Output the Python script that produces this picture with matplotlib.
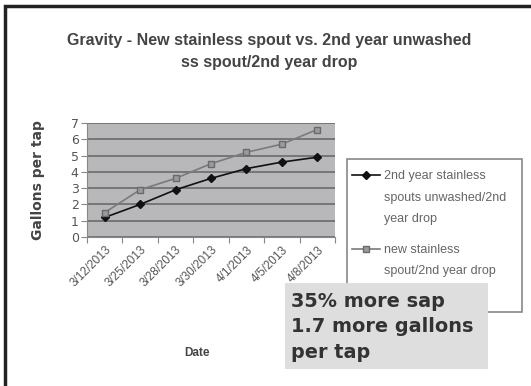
import numpy as np
import matplotlib
matplotlib.use("Agg")
import matplotlib.pyplot as plt
from matplotlib.patches import Rectangle
from matplotlib.lines import Line2D

dates = ["3/12/2013", "3/25/2013", "3/28/2013", "3/30/2013",
         "4/1/2013", "4/5/2013", "4/8/2013"]
old_spout = [1.2, 2.0, 2.9, 3.6, 4.2, 4.6, 4.9]
new_spout = [1.5, 2.9, 3.6, 4.5, 5.2, 5.7, 6.6]
old_label = "2nd year stainless\nspouts unwashed/2nd\nyear drop"
new_label = "new stainless\nspout/2nd year drop"
note = "35% more sap\n1.7 more gallons\nper tap"

W, H = 531, 386
fig = plt.figure(figsize=(W / 100, H / 100), dpi=100)
fig.patch.set_facecolor("white")

def fx(px):
    return px / W

def fy(py):
    return 1 - py / H

sans = ["Liberation Sans", "DejaVu Sans"]

# outer frame
fig.patches.append(Rectangle((fx(5), fy(530)), 1.2, fy(6) - fy(530),
                             transform=fig.transFigure, fill=False,
                             edgecolor="#222222", linewidth=2.5))

ax_l, ax_r, ax_t, ax_b = 87, 335, 123, 237
ax = fig.add_axes([fx(ax_l), fy(ax_b), fx(ax_r) - fx(ax_l), fy(ax_t) - fy(ax_b)])
ax.set_facecolor("#b8b8bb")
x = np.arange(len(dates))
ax.set_xlim(-0.5, len(dates) - 0.5)
ax.set_ylim(0, 7)
ax.set_yticks(range(8))
ax.yaxis.grid(True, color="#6a6a6a", linewidth=1.2)
ax.set_axisbelow(True)
for s in ["top", "right"]:
    ax.spines[s].set_visible(False)
ax.spines["left"].set_color("#888888")
ax.spines["bottom"].set_color("#888888")

ax.plot(x, old_spout, color="#111111", marker="D", markersize=4.5,
        linewidth=1.2, label=old_label)
ax.plot(x, new_spout, color="#7a7a7a", marker="s", markersize=5,
        markerfacecolor="#9a9a9a", markeredgecolor="#6a6a6a",
        linewidth=1.2, label=new_label)

ax.set_xticks(np.arange(-0.5, len(dates)), minor=False)
ax.set_xticklabels([])
ax.set_xticks(x, minor=True)
ax.set_xticklabels(dates, minor=True, rotation=45, ha="right",
                   rotation_mode="anchor", fontsize=8.5, color="#555555",
                   family=sans)
ax.tick_params(axis="x", which="minor", length=0, pad=5)
ax.tick_params(axis="x", which="major", length=4, color="#888888")
ax.tick_params(axis="y", length=4, color="#888888", labelsize=9,
               labelcolor="#555555", pad=2)

ax_w = fx(ax_r) - fx(ax_l)
ax_h = fy(ax_t) - fy(ax_b)
ax.set_ylabel("Gallons per tap", fontsize=10, fontweight="bold",
              color="#444444")
ax.yaxis.set_label_coords((fx(45) - fx(ax_l)) / ax_w, 0.5)
ax.set_xlabel("Date", fontsize=8.5, fontweight="bold", color="#444444",
              family=sans)
ax.xaxis.set_label_coords((fx(197) - fx(ax_l)) / ax_w,
                          (fy(347) - fy(ax_b)) / ax_h)

fig.text(fx(269), fy(40), "Gravity - New stainless spout vs. 2nd year unwashed",
         ha="center", va="center", fontsize=11.5, fontweight="bold",
         color="#444444", family=sans)
fig.text(fx(269), fy(62), "ss spout/2nd year drop", ha="center", va="center",
         fontsize=11.5, fontweight="bold", color="#444444", family=sans)

# legend: frame, handles on the first line of each entry, wrapped labels
fig.patches.append(Rectangle((fx(347), fy(312)), fx(522) - fx(347),
                             fy(159) - fy(312), transform=fig.transFigure,
                             facecolor="white", edgecolor="#888888",
                             linewidth=1.2, zorder=1))
line_px = 22.5
entry_top = [175, 249]
for line, top in zip(ax.get_lines(), entry_top):
    handle = Line2D([fx(352), fx(366), fx(380)], [fy(top)] * 3,
                    transform=fig.transFigure, color=line.get_color(),
                    linewidth=line.get_linewidth(), marker=line.get_marker(),
                    markersize=line.get_markersize(),
                    markerfacecolor=line.get_markerfacecolor(),
                    markeredgecolor=line.get_markeredgecolor(),
                    markevery=[1], zorder=2)
    fig.lines.append(handle)
    label = line.get_label()
    n = label.count("\n")
    fig.text(fx(384), fy(top + n * line_px / 2), label, ha="left",
             va="center", fontsize=9, color="#666666", family=sans,
             linespacing=2.05, zorder=2)

# callout box
fig.patches.append(Rectangle((fx(285), fy(369)), fx(488) - fx(285),
                             fy(283) - fy(369), transform=fig.transFigure,
                             facecolor="#dedede", edgecolor="none", zorder=5))
fig.text(fx(291), fy(327), note, ha="left", va="center", fontsize=13.9,
         fontweight="bold", color="#333333", family="DejaVu Sans",
         linespacing=1.42, zorder=6)

fig.savefig("out.png", dpi=100)
